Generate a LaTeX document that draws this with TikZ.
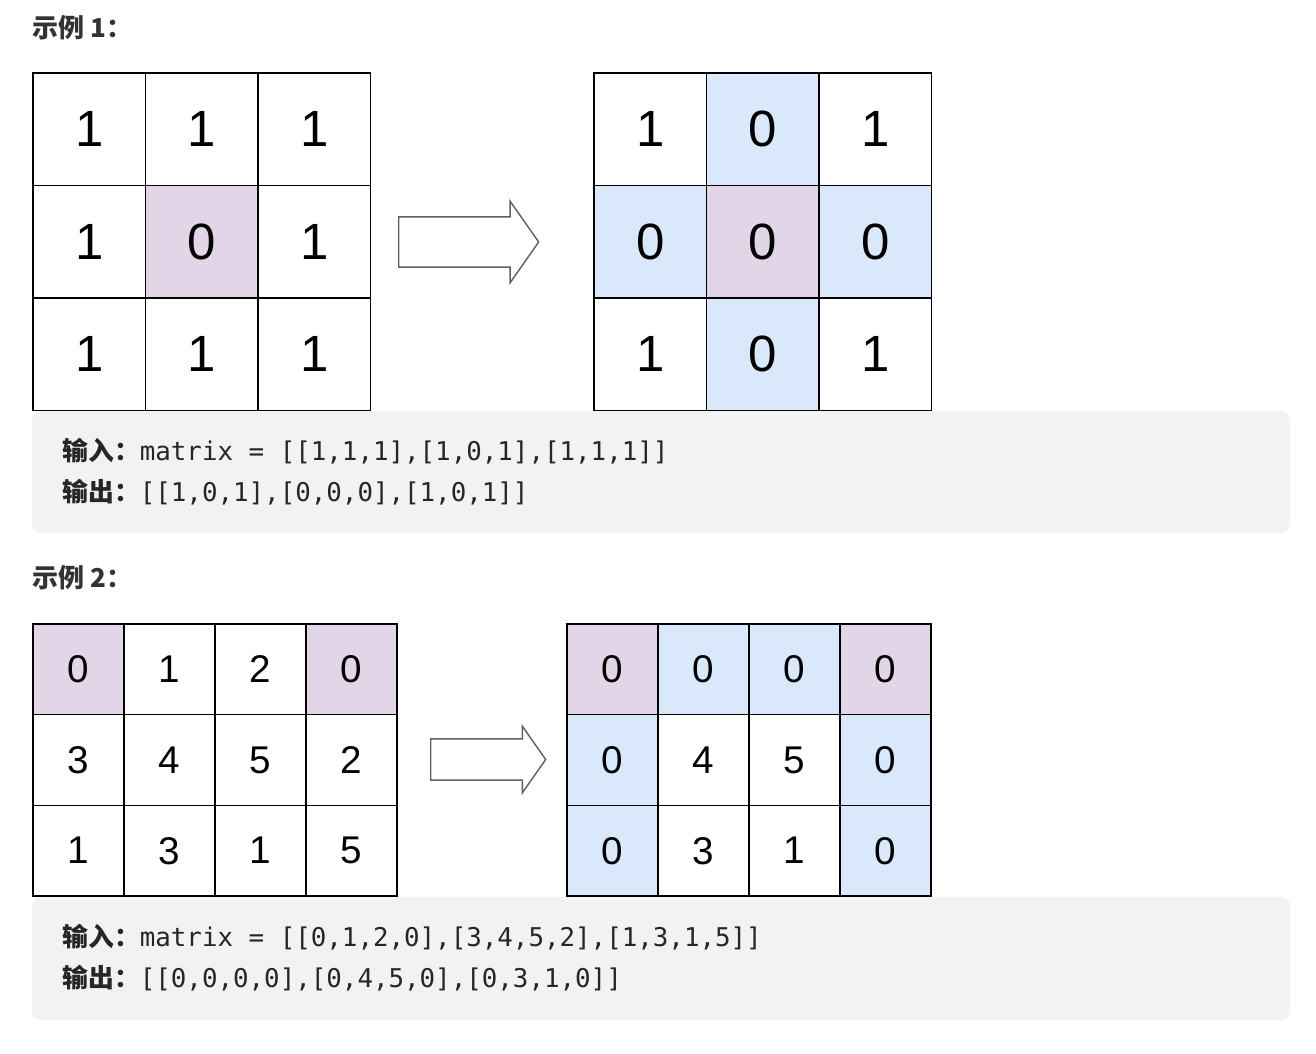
\documentclass[tikz,border=0pt]{standalone}
\usepackage{fontspec}
\setmainfont{Liberation Sans}
\setmonofont{DejaVu Sans Mono}
\newfontfamily\cjk{Noto Sans CJK SC}
\usetikzlibrary{shapes.arrows}
\definecolor{zerocell}{HTML}{E1D5E7}
\definecolor{rowcell}{HTML}{DAE8FC}
\definecolor{codebg}{HTML}{F2F2F4}
\definecolor{titletext}{HTML}{333333}
\definecolor{codetext}{HTML}{262626}
\definecolor{arrowline}{HTML}{606060}
\begin{document}
\begin{tikzpicture}[x=0.02cm,y=-0.02cm]
    \tikzstyle{bigcell}=[draw=black,line width=0.8pt,minimum width=2.25cm,minimum height=2.25cm,inner sep=0pt,font=\fontsize{29}{29}\selectfont]
    \tikzstyle{smallcell}=[draw=black,line width=0.8pt,minimum width=1.82cm,minimum height=1.813cm,inner sep=0pt,font=\fontsize{22}{22}\selectfont]
    \tikzstyle{title}=[anchor=west,inner sep=0pt,text=titletext,font=\cjk\bfseries\fontsize{14.8}{14.8}\selectfont]
    \tikzstyle{codeline}=[anchor=west,inner sep=0pt,text=codetext,font=\fontsize{14.7}{14.7}\selectfont]
    \tikzstyle{bigarrow}=[single arrow,anchor=tail,draw=arrowline,line width=0.8pt,fill=white,inner xsep=0pt,single arrow tip angle=110]

    \useasboundingbox (0,0) rectangle (1316,1054);

    % example 1
    \node[title] at (32,28) (t1) {示例 1：};
    \fill[codebg,rounded corners=5pt] (32,411) rectangle (1290,533);

    \foreach \c/\v/\f [count=\n] in {0/1/white,1/1/white,2/1/white} \node[bigcell,fill=\f] at (89.25+112.5*\c,129.25) (a0\n) {\v};
    \foreach \c/\v/\f [count=\n] in {0/1/white,1/0/zerocell,2/1/white} \node[bigcell,fill=\f] at (89.25+112.5*\c,241.75) (a1\n) {\v};
    \foreach \c/\v/\f [count=\n] in {0/1/white,1/1/white,2/1/white} \node[bigcell,fill=\f] at (89.25+112.5*\c,354.25) (a2\n) {\v};

    \node[bigarrow,inner ysep=0.49cm,minimum height=2.8cm,minimum width=1.6cm,single arrow head extend=0.31cm] at (398,242) (arr1) {};

    \foreach \c/\v/\f [count=\n] in {0/1/white,1/0/rowcell,2/1/white} \node[bigcell,fill=\f] at (650.25+112.5*\c,129.25) (b0\n) {\v};
    \foreach \c/\v/\f [count=\n] in {0/0/rowcell,1/0/zerocell,2/0/rowcell} \node[bigcell,fill=\f] at (650.25+112.5*\c,241.75) (b1\n) {\v};
    \foreach \c/\v/\f [count=\n] in {0/1/white,1/0/rowcell,2/1/white} \node[bigcell,fill=\f] at (650.25+112.5*\c,354.25) (b2\n) {\v};

    \node[codeline] at (62,451) (in1) {{\cjk\bfseries 输入：}\texttt{matrix = [[1,1,1],[1,0,1],[1,1,1]]}};
    \node[codeline] at (62,492) (out1) {{\cjk\bfseries 输出：}\texttt{[[1,0,1],[0,0,0],[1,0,1]]}};

    % example 2
    \node[title] at (32,578) (t2) {示例 2：};
    \fill[codebg,rounded corners=5pt] (32,897) rectangle (1290,1020);

    \foreach \c/\v/\f [count=\n] in {0/0/zerocell,1/1/white,2/2/white,3/0/zerocell} \node[smallcell,fill=\f] at (78.5+91*\c,669.3) (c0\n) {\v};
    \foreach \c/\v/\f [count=\n] in {0/3/white,1/4/white,2/5/white,3/2/white} \node[smallcell,fill=\f] at (78.5+91*\c,760) (c1\n) {\v};
    \foreach \c/\v/\f [count=\n] in {0/1/white,1/3/white,2/1/white,3/5/white} \node[smallcell,fill=\f] at (78.5+91*\c,850.7) (c2\n) {\v};

    \node[bigarrow,inner ysep=0.4cm,minimum height=2.3cm,minimum width=1.3cm,single arrow head extend=0.25cm] at (430,759.5) (arr2) {};

    \foreach \c/\v/\f [count=\n] in {0/0/zerocell,1/0/rowcell,2/0/rowcell,3/0/zerocell} \node[smallcell,fill=\f] at (612.5+91*\c,669.3) (d0\n) {\v};
    \foreach \c/\v/\f [count=\n] in {0/0/rowcell,1/4/white,2/5/white,3/0/rowcell} \node[smallcell,fill=\f] at (612.5+91*\c,760) (d1\n) {\v};
    \foreach \c/\v/\f [count=\n] in {0/0/rowcell,1/3/white,2/1/white,3/0/rowcell} \node[smallcell,fill=\f] at (612.5+91*\c,850.7) (d2\n) {\v};

    \node[codeline] at (62,937) (in2) {{\cjk\bfseries 输入：}\texttt{matrix = [[0,1,2,0],[3,4,5,2],[1,3,1,5]]}};
    \node[codeline] at (62,978) (out2) {{\cjk\bfseries 输出：}\texttt{[[0,0,0,0],[0,4,5,0],[0,3,1,0]]}};
\end{tikzpicture}
\end{document}
